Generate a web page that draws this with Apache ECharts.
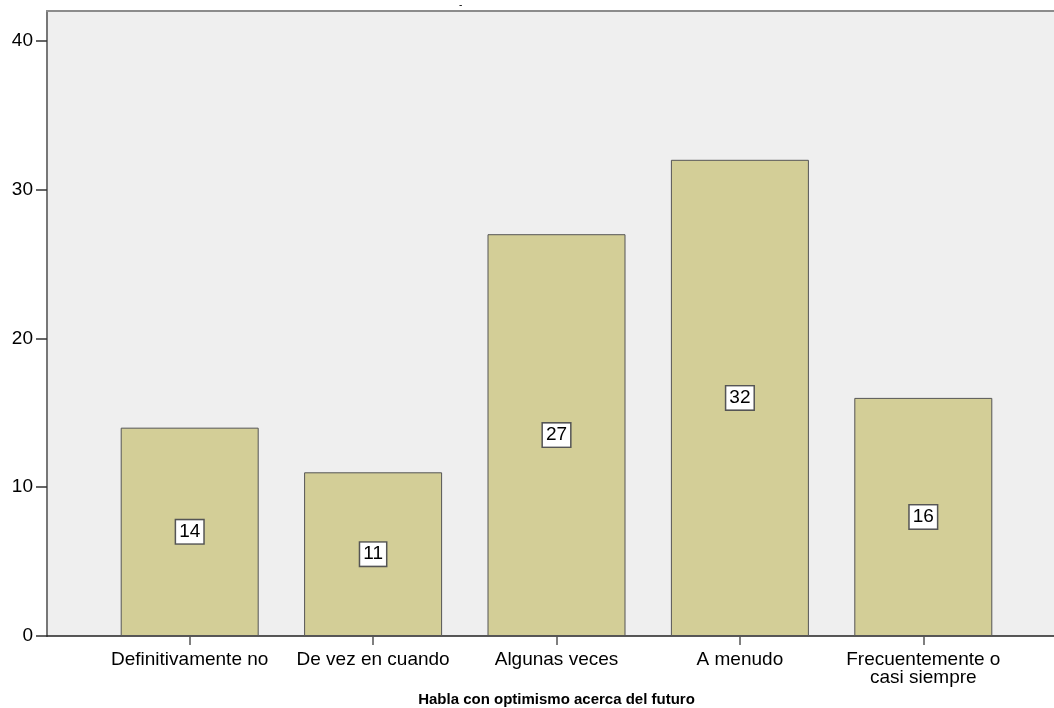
<!DOCTYPE html>
<html>
<head>
<meta charset="utf-8">
<script src="https://cdn.jsdelivr.net/npm/echarts@6/dist/echarts.min.js"></script>
<style>html,body{margin:0;padding:0;background:#fff;}#c{width:1054px;height:708px;}</style>
</head>
<body>
<div id="c"></div>
<script>
const categories = ['Definitivamente no', 'De vez en cuando', 'Algunas veces', 'A menudo', 'Frecuentemente o\ncasi siempre'];
const counts = [14, 11, 27, 32, 16];
const yTicks = [0, 10, 20, 30, 40];
const xTitle = 'Habla con optimismo acerca del futuro';

const FONT = '"Liberation Sans", Arial, sans-serif';
const chart = echarts.init(document.getElementById('c'));
chart.setOption({
  animation: false,
  textStyle: { fontFamily: FONT },
  graphic: [{ type: 'text', left: 459, top: 0, style: { text: '-', font: '10px ' + FONT, fill: '#000' } }],
  grid: [
    { left: 47, right: 0, top: 11, bottom: 72, show: true, backgroundColor: '#efefef', borderWidth: 0, outerBoundsMode: 'none' },
    { left: 98, right: 39, top: 11, bottom: 72, outerBoundsMode: 'none' }
  ],
  xAxis: [
    { gridIndex: 0, type: 'category', data: [''], axisLine: { lineStyle: { color: '#222', width: 1.5 } }, axisTick: { show: false }, axisLabel: { show: false }, position: 'bottom' },
    { gridIndex: 0, type: 'category', data: [''], position: 'top', axisLine: { lineStyle: { color: '#8c8c8c', width: 2 } }, axisTick: { show: false }, axisLabel: { show: false } },
    { gridIndex: 1, type: 'category', data: categories, axisLine: { show: false },
      axisTick: { show: true, alignWithLabel: true, length: 9, lineStyle: { color: '#555', width: 1.5 } },
      axisLabel: { color: '#000', fontSize: 19, fontFamily: FONT, margin: 15, lineHeight: 18, interval: 0 },
      name: xTitle, nameLocation: 'middle', nameGap: 56,
      nameTextStyle: { color: '#000', fontSize: 15, fontWeight: 'bold', fontFamily: FONT } }
  ],
  yAxis: [
    { gridIndex: 0, type: 'value', min: 0, max: 42, interval: 10,
      axisLine: { show: true, lineStyle: { color: '#777', width: 2 } },
      axisTick: { show: true, length: 11, customValues: yTicks, lineStyle: { color: '#333', width: 1.5 } },
      axisLabel: { color: '#000', fontSize: 19, fontFamily: FONT, margin: 14, customValues: yTicks },
      splitLine: { show: false } },
    { gridIndex: 1, type: 'value', min: 0, max: 42, show: false, splitLine: { show: false } }
  ],
  series: [{
    type: 'bar', xAxisIndex: 2, yAxisIndex: 1, data: counts, barWidth: 138,
    itemStyle: { color: '#d3ce97', borderColor: '#555', borderWidth: 1 },
    label: { show: true, position: 'inside', color: '#000', fontSize: 19, fontFamily: FONT,
      backgroundColor: '#fff', borderColor: '#555', borderWidth: 1.5, padding: [3, 3, 1, 3] }
  }]
});
</script>
</body>
</html>
